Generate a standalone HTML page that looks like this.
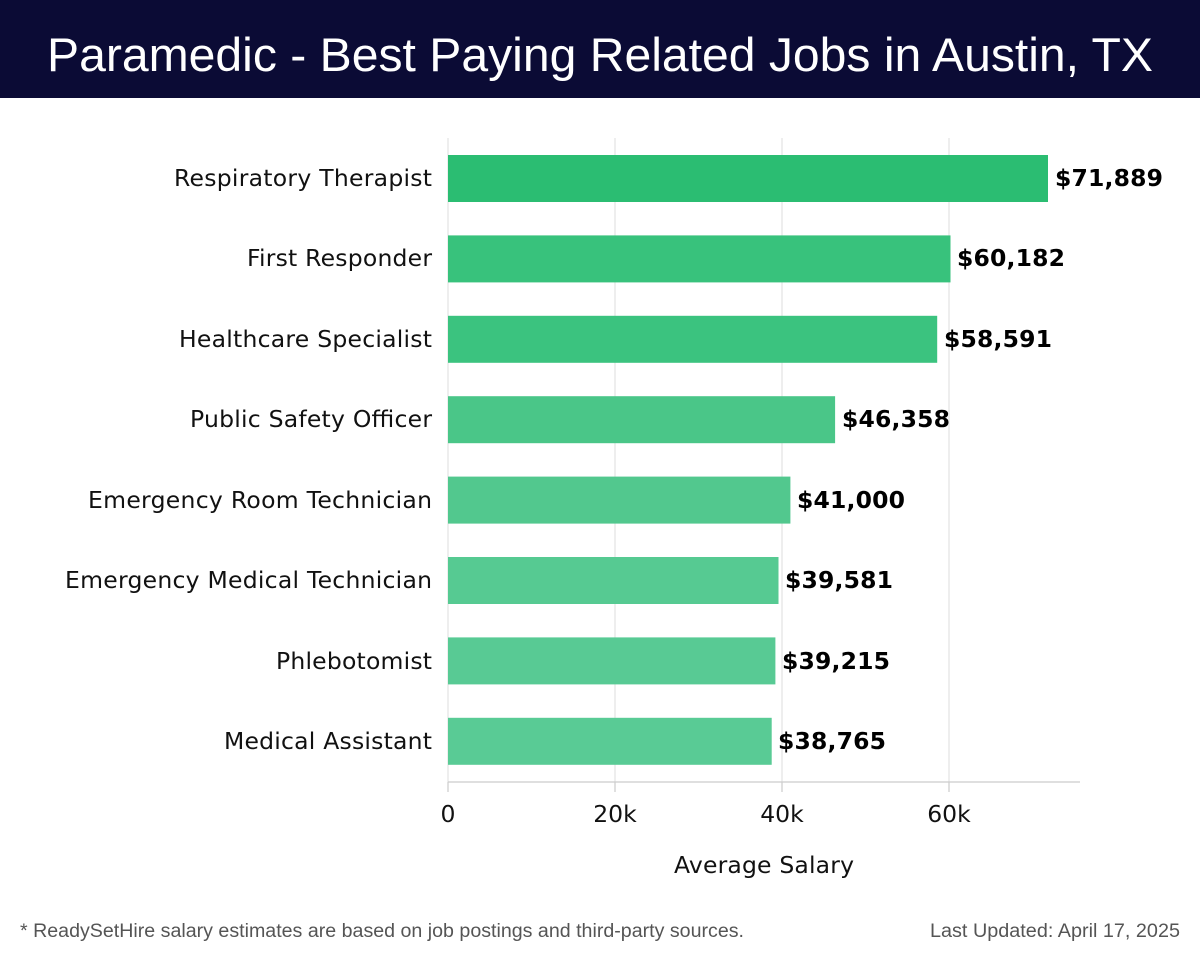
<!DOCTYPE html>
<html><head><meta charset="utf-8"><style>
html,body{margin:0;padding:0;background:#fff;}
svg{display:block;}
</style></head><body>
<svg width="1200" height="958" viewBox="0 0 1200 958" xmlns="http://www.w3.org/2000/svg">
<rect x="0" y="0" width="1200" height="98" fill="#0b0b35"/>
<text x="600" y="71" fill="#fff" font-family="Liberation Sans, sans-serif" font-size="47" text-anchor="middle" textLength="1106" lengthAdjust="spacingAndGlyphs">Paramedic - Best Paying Related Jobs in Austin, TX</text>
<g stroke="#e3e3e3" stroke-width="1.2">
<line x1="448" y1="138" x2="448" y2="782"/>
<line x1="615" y1="138" x2="615" y2="782"/>
<line x1="782" y1="138" x2="782" y2="782"/>
<line x1="949" y1="138" x2="949" y2="782"/>
</g>
<line x1="448" y1="782" x2="1080" y2="782" stroke="#ccc" stroke-width="1.2"/>
<g stroke="#ccc" stroke-width="1.2">
<line x1="448" y1="782" x2="448" y2="792"/><line x1="615" y1="782" x2="615" y2="792"/>
<line x1="782" y1="782" x2="782" y2="792"/><line x1="949" y1="782" x2="949" y2="792"/>
</g>
<g>
<rect x="448" y="155" width="600" height="47" fill="#2bbd72"/>
<rect x="448" y="235.4" width="502.5" height="47" fill="#38c27c"/>
<rect x="448" y="315.8" width="489.2" height="47" fill="#3bc37f"/>
<rect x="448" y="396.2" width="387.1" height="47" fill="#4ac688"/>
<rect x="448" y="476.6" width="342.4" height="47" fill="#52c88e"/>
<rect x="448" y="557" width="330.5" height="47" fill="#56ca92"/>
<rect x="448" y="637.4" width="327.4" height="47" fill="#58ca94"/>
<rect x="448" y="717.8" width="323.7" height="47" fill="#59cb95"/>
</g>
<g font-family="DejaVu Sans, sans-serif" font-size="23.5" fill="#111" text-anchor="end" lengthAdjust="spacingAndGlyphs">
<text x="432" y="186" textLength="258">Respiratory Therapist</text>
<text x="432" y="266" textLength="185">First Responder</text>
<text x="432" y="347" textLength="253">Healthcare Specialist</text>
<text x="432" y="427" textLength="242">Public Safety Officer</text>
<text x="432" y="508" textLength="344">Emergency Room Technician</text>
<text x="432" y="588" textLength="367">Emergency Medical Technician</text>
<text x="432" y="669" textLength="156">Phlebotomist</text>
<text x="432" y="749" textLength="208">Medical Assistant</text>
</g>
<g font-family="DejaVu Sans, sans-serif" font-size="23.5" font-weight="bold" fill="#000">
<text x="1055" y="186" textLength="108">$71,889</text>
<text x="957" y="266" textLength="108">$60,182</text>
<text x="944" y="347" textLength="108">$58,591</text>
<text x="842" y="427" textLength="108">$46,358</text>
<text x="797" y="508" textLength="108">$41,000</text>
<text x="785" y="588" textLength="108">$39,581</text>
<text x="782" y="669" textLength="108">$39,215</text>
<text x="778" y="749" textLength="108">$38,765</text>
</g>
<g font-family="DejaVu Sans, sans-serif" font-size="23.5" fill="#111" text-anchor="middle">
<text x="448" y="822">0</text>
<text x="615" y="822">20k</text>
<text x="782" y="822">40k</text>
<text x="949" y="822">60k</text>
<text x="764" y="873" textLength="180">Average Salary</text>
</g>
<g font-family="Liberation Sans, sans-serif" font-size="19" fill="#555">
<text x="20" y="937" textLength="724" lengthAdjust="spacingAndGlyphs">* ReadySetHire salary estimates are based on job postings and third-party sources.</text>
<text x="930" y="937" textLength="250" lengthAdjust="spacingAndGlyphs">Last Updated: April 17, 2025</text>
</g>
</svg>
</body></html>
